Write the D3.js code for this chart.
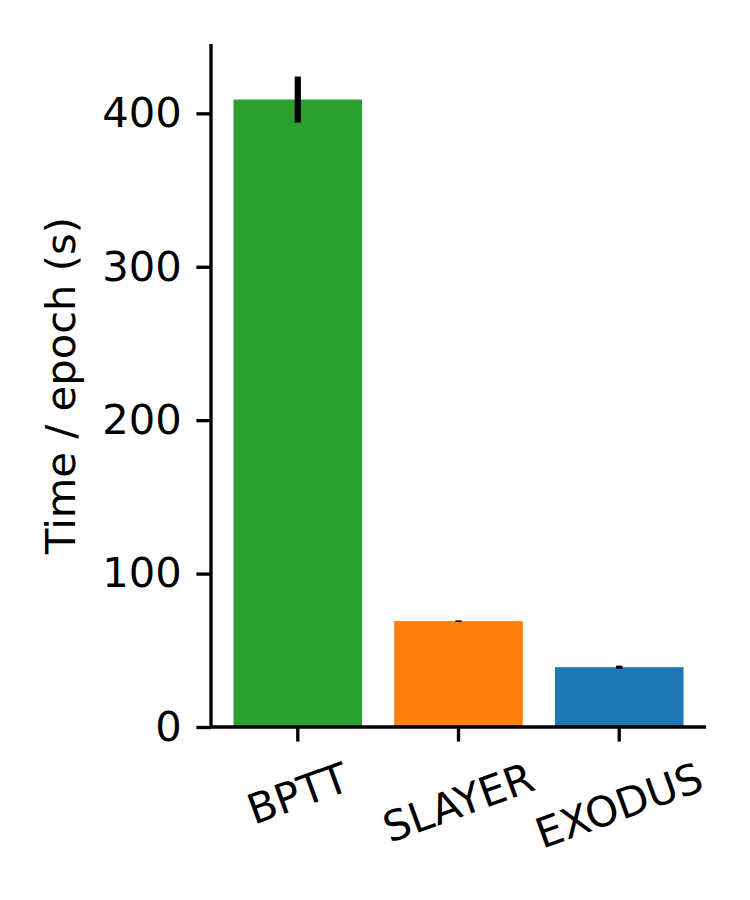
<!DOCTYPE html>
<html>
<head>
<meta charset="utf-8">
<script src="https://d3js.org/d3.v7.min.js"></script>
<style>
  body { margin: 0; background: #fff; }
  text { font-family: "DejaVu Sans", sans-serif; fill: #000; }
</style>
</head>
<body>
<div id="chart"></div>
<script>

// data
var methods = ["BPTT", "SLAYER", "EXODUS"];
var timePerEpoch = [409, 69, 39];
var timeErr = [15, 0.5, 1];
var barColors = ["#2ca02c", "#ff7f0e", "#1f77b4"];
var yTicks = [0, 100, 200, 300, 400];

var W = 750, H = 900;
var fs = 41.7;            // 10pt at 300dpi
var lw = 3.33;            // 0.8pt spine
var tickLen = 14.6, tickPad = 14.6;
var plotLeft = 211, plotRight = 706, plotTop = 44, plotBottom = 727;

var svg = d3.select("#chart").append("svg")
    .attr("width", W)
    .attr("height", H);

var x = d3.scaleBand()
    .domain(methods)
    .range([plotLeft, plotRight])
    .paddingInner(0.2)
    .paddingOuter(0.14);

var ymax = d3.max(timePerEpoch.map(function(v, i) { return v + timeErr[i]; })) * 1.05;
var y = d3.scaleLinear()
    .domain([0, ymax])
    .range([plotBottom, plotTop]);

// bars
svg.append("g")
  .selectAll("rect")
  .data(methods)
  .enter()
  .append("rect")
    .attr("x", function(d) { return x(d); })
    .attr("width", x.bandwidth())
    .attr("y", function(d, i) { return y(timePerEpoch[i]); })
    .attr("height", function(d, i) { return plotBottom - y(timePerEpoch[i]); })
    .attr("fill", function(d, i) { return barColors[i]; });

// error bars
svg.append("g")
  .selectAll("line")
  .data(methods)
  .enter()
  .append("line")
    .attr("x1", function(d) { return x(d) + x.bandwidth() / 2; })
    .attr("x2", function(d) { return x(d) + x.bandwidth() / 2; })
    .attr("y1", function(d, i) { return y(timePerEpoch[i] - timeErr[i]); })
    .attr("y2", function(d, i) { return y(timePerEpoch[i] + timeErr[i]); })
    .attr("stroke", "#000")
    .attr("stroke-width", 6.25);

// y axis
var yAxis = svg.append("g")
    .attr("transform", "translate(" + plotLeft + ",0)")
    .call(d3.axisLeft(y).tickValues(yTicks).tickSize(tickLen).tickPadding(tickPad).tickFormat(d3.format("d")));
yAxis.select(".domain").attr("d", "M0," + plotTop + "V" + plotBottom).attr("stroke-width", lw);
yAxis.selectAll(".tick line").attr("stroke-width", lw);
yAxis.selectAll(".tick text").attr("font-size", fs).attr("font-family", "DejaVu Sans").attr("fill", "#000");

// x axis
var xAxis = svg.append("g")
    .attr("transform", "translate(0," + plotBottom + ")")
    .call(d3.axisBottom(x).tickSize(tickLen).tickFormat(""));
xAxis.select(".domain").attr("d", "M" + plotLeft + ",0H" + plotRight).attr("stroke-width", lw);
xAxis.selectAll(".tick line").attr("stroke-width", lw);

// rotated category labels, bounding box centred under each tick
var ang = 20 * Math.PI / 180;
var labs = svg.append("g")
  .selectAll("text")
  .data(methods)
  .enter()
  .append("text")
    .attr("font-size", fs)
    .attr("text-anchor", "middle")
    .attr("dominant-baseline", "central")
    .text(function(d) { return d; });

labs.each(function(d) {
  var w = this.getComputedTextLength();
  var h = fs * 1.0;
  var bh = w * Math.sin(ang) + h * Math.cos(ang);
  var cx = x(d) + x.bandwidth() / 2;
  var cy = plotBottom + tickLen + tickPad + bh / 2;
  d3.select(this)
    .attr("transform", "translate(" + cx + "," + cy + ") rotate(-20)");
});

// y label
svg.append("text")
    .attr("font-size", fs)
    .attr("text-anchor", "middle")
    .attr("transform", "translate(75," + ((plotTop + plotBottom) / 2) + ") rotate(-90)")
    .text("Time / epoch (s)");

</script>
</body>
</html>
